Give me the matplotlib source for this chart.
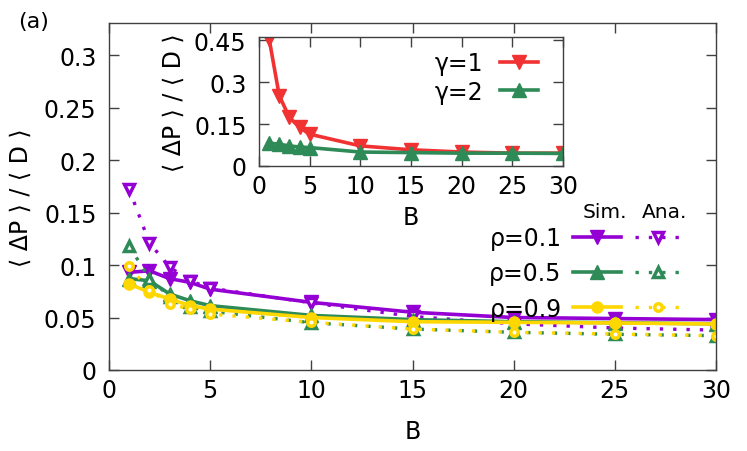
import matplotlib
matplotlib.use("Agg")
import matplotlib.pyplot as plt
from matplotlib.legend_handler import HandlerTuple

B = [1, 2, 3, 4, 5, 10, 15, 20, 25, 30]
sim_01 = [0.093, 0.0945, 0.087, 0.0835, 0.077, 0.0644, 0.055, 0.050, 0.049, 0.048]
ana_01 = [0.172, 0.121, 0.098, 0.085, 0.078, 0.064, 0.051, 0.044, 0.040, 0.038]
sim_05 = [0.087, 0.085, 0.0724, 0.066, 0.0613, 0.052, 0.048, 0.046, 0.045, 0.044]
ana_05 = [0.118, 0.087, 0.070, 0.060, 0.056, 0.045, 0.039, 0.0359, 0.034, 0.0327]
sim_09 = [0.082, 0.074, 0.0676, 0.0613, 0.058, 0.050, 0.046, 0.0454, 0.0448, 0.0438]
ana_09 = [0.099, 0.076, 0.0629, 0.058, 0.0533, 0.0454, 0.039, 0.0359, 0.0343, 0.0327]
rho_labels = ["ρ=0.1", "ρ=0.5", "ρ=0.9"]

inset_g1 = [0.455, 0.252, 0.174, 0.138, 0.114, 0.072, 0.058, 0.050, 0.046, 0.046]
inset_g2 = [0.082, 0.078, 0.072, 0.068, 0.066, 0.050, 0.048, 0.046, 0.046, 0.045]
gamma_labels = ["γ=1", "γ=2"]

main_yticks = [0, 0.05, 0.1, 0.15, 0.2, 0.25, 0.3]
main_yticklabels = ["0", "0.05", "0.1", "0.15", "0.2", "0.25", "0.3"]
xticks = [0, 5, 10, 15, 20, 25, 30]
inset_yticks = [0, 0.15, 0.3, 0.45]
inset_yticklabels = ["0", "0.15", "0.3", "0.45"]

PURPLE = "#9400D3"
GREEN = "#2E8B57"
YELLOW = "#FFD700"
RED = "#F03232"
FAM = ["DejaVu Sans", "Noto Sans CJK JP"]
plt.rcParams["font.family"] = FAM
FS = 17
YLABEL = "⟨ ΔP ⟩ / ⟨ D ⟩"

fig = plt.figure(figsize=(7.47, 4.52), dpi=100)
W, H = 747, 452
ax = fig.add_axes([109 / W, (H - 371) / H, 607 / W, 347 / H])

colors = [PURPLE, GREEN, YELLOW]
sims = [sim_01, sim_05, sim_09]
anas = [ana_01, ana_05, ana_09]
mk = ["v", "^", "o"]
handles = []
for c, s, a, m in zip(colors, sims, anas, mk):
    ms_s = 9.5 if m != "o" else 8
    ms_a = 7 if m != "o" else 5.4
    ls, = ax.plot(B, s, color=c, lw=2.6, marker=m, ms=ms_s, mfc=c, mec=c)
    la, = ax.plot(B, a, color=c, lw=2.4, linestyle=(0, (1, 3)), marker=m,
                  ms=ms_a, mfc="white", mec=c, mew=2.5)
    handles.append((ls, la))

ax.set_xlim(0, 30)
ax.set_ylim(0, 0.3305)
ax.set_xticks(xticks)
ax.set_xticklabels([str(t) for t in xticks])
ax.set_yticks(main_yticks)
ax.set_yticklabels(main_yticklabels)
ax.tick_params(direction="in", length=7, width=1, top=True, right=True,
               labelsize=FS, color="#404040")
ax.tick_params(axis="y", pad=9)
ax.tick_params(axis="x", pad=6)
for sp in ax.spines.values():
    sp.set_color("#404040")
    sp.set_linewidth(1.0)
ax.set_xlabel("B", fontsize=FS, labelpad=12)
ax.set_ylabel(YLABEL, fontsize=FS, labelpad=8)

leg = ax.legend(handles, rho_labels,
                handler_map={tuple: HandlerTuple(ndivide=None, pad=0.6)},
                markerfirst=False, frameon=False, fontsize=FS,
                handlelength=4.6, handletextpad=0.5, labelspacing=0.48,
                loc="upper right", bbox_to_anchor=(682 / W, 1 - 227 / H),
                bbox_transform=fig.transFigure, borderaxespad=0, borderpad=0)
fig.text(605 / W, 1 - 212 / H, "Sim.", fontsize=14.5, ha="center", va="center")
fig.text(665 / W, 1 - 212 / H, "Ana.", fontsize=14.5, ha="center", va="center")

fig.text(34 / W, 1 - 22 / H, "(a)", fontsize=16, ha="center", va="center")

# inset
axi = fig.add_axes([259 / W, (H - 167) / H, 304 / W, 129 / H])
li1, = axi.plot(B, inset_g1, color=RED, lw=2.6, marker="v", ms=9.5, mfc=RED, mec=RED)
li2, = axi.plot(B, inset_g2, color=GREEN, lw=2.6, marker="^", ms=9.5, mfc=GREEN, mec=GREEN)
axi.set_xlim(0, 30)
axi.set_ylim(0, 0.462)
axi.set_xticks(xticks)
axi.set_xticklabels([str(t) for t in xticks])
axi.set_yticks(inset_yticks)
axi.set_yticklabels(inset_yticklabels)
axi.tick_params(direction="in", length=7, width=1, top=True, right=True,
                labelsize=FS, color="#404040")
axi.tick_params(axis="y", pad=9)
axi.tick_params(axis="x", pad=6)
for sp in axi.spines.values():
    sp.set_color("#404040")
    sp.set_linewidth(1.0)
axi.set_xlabel("B", fontsize=FS, labelpad=5)
axi.set_ylabel(YLABEL, fontsize=FS, labelpad=6)
axi.legend([li1, li2], gamma_labels, markerfirst=False, frameon=False,
           fontsize=FS, handlelength=1.6, handletextpad=0.72, labelspacing=0.2,
           loc="upper right", bbox_to_anchor=(538 / W, 1 - 52 / H),
           bbox_transform=fig.transFigure, borderaxespad=0, borderpad=0)

fig.savefig("out.png", dpi=100)
